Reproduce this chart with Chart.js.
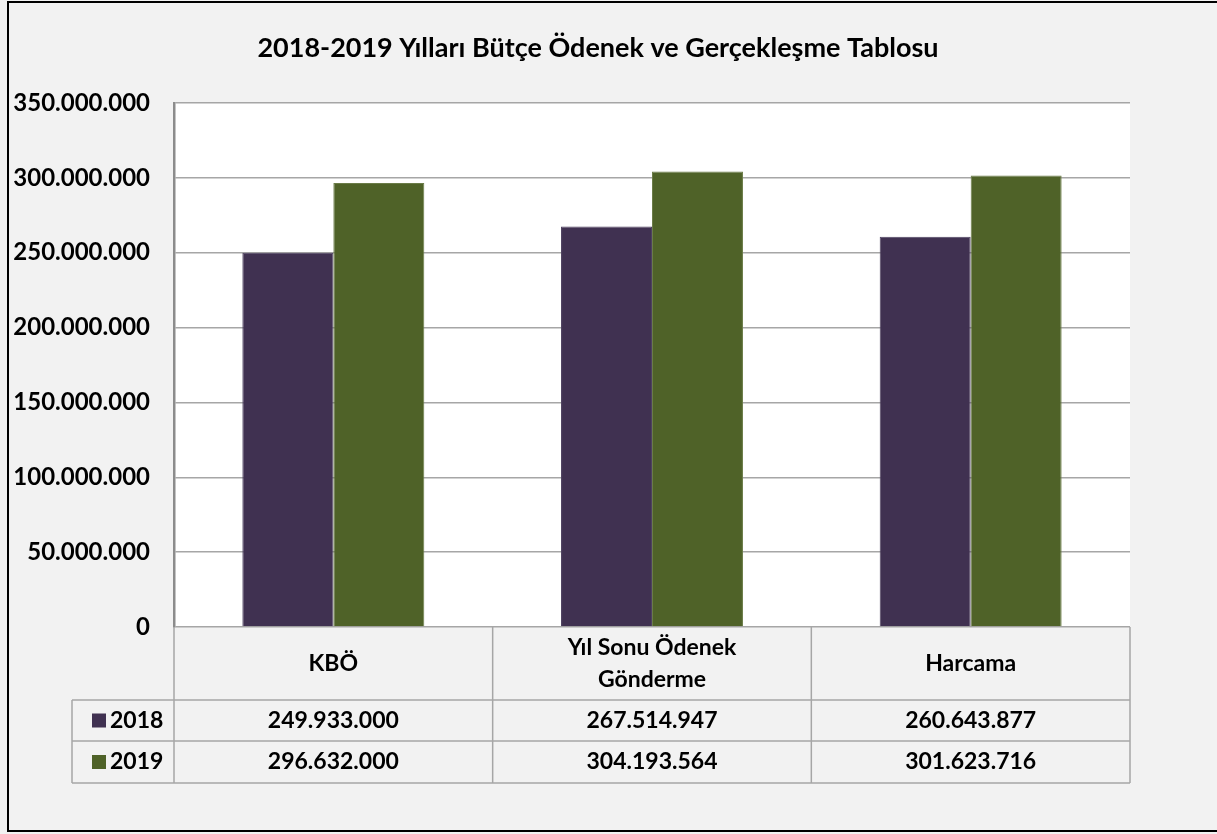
<!DOCTYPE html>
<html>
<head>
<meta charset="utf-8">
<script src="https://cdn.jsdelivr.net/npm/chart.js@4"></script>
<style>
  body { margin: 0; background: #f2f2f2; }
  #wrap { width: 1217px; height: 834px; }
</style>
</head>
<body>
<div id="wrap"><canvas id="budgetChart" width="1217" height="834"></canvas></div>
<script>
const chartTitle = '2018-2019 Yılları Bütçe Ödenek ve Gerçekleşme Tablosu';
const categories = ['KBÖ', ['Yıl Sonu Ödenek', 'Gönderme'], 'Harcama'];
const seriesNames = ['2018', '2019'];
const values2018 = [249933000, 267514947, 260643877];
const values2019 = [296632000, 304193564, 301623716];
const yMax = 350000000;
const yStep = 50000000;

const FONT = 'Lato, "Open Sans", sans-serif';
const colors = ['#403151', '#4f6228'];

function fmt(n) {
    return String(Math.round(n)).replace(/\B(?=(\d{3})+(?!\d))/g, '.');
}

const frame = {
    id: 'frame',
    beforeDraw(chart) {
        const ctx = chart.ctx;
        const a = chart.chartArea;
        ctx.save();
        ctx.fillStyle = '#f2f2f2';
        ctx.fillRect(0, 0, chart.width, chart.height);
        ctx.fillStyle = '#ffffff';
        ctx.fillRect(a.left, a.top, a.right - a.left, a.bottom - a.top);
        ctx.strokeStyle = '#000000';
        ctx.lineWidth = 2;
        ctx.strokeRect(8, 2, chart.width + 10, chart.height - 5);
        // title, centred on the whole frame rather than the plot
        ctx.fillStyle = '#000000';
        ctx.font = 'bold 27px ' + FONT;
        ctx.textAlign = 'center';
        ctx.textBaseline = 'middle';
        ctx.fillText(chartTitle, 598, 48);
        ctx.restore();
    }
};

// data table under the plot, columns follow the x scale
const dataTable = {
    id: 'dataTable',
    afterDraw(chart) {
        const ctx = chart.ctx;
        const a = chart.chartArea;
        const xs = chart.scales.x;
        const n = categories.length;
        const centers = categories.map((c, i) => xs.getPixelForValue(i));
        const bounds = [a.left];
        for (let i = 0; i < n - 1; i++) bounds.push((centers[i] + centers[i + 1]) / 2);
        bounds.push(a.right);

        const headTop = a.bottom, headBot = 700, row1 = 741, row2 = 783, legLeft = 72;

        ctx.save();
        ctx.strokeStyle = '#a6a6a6';
        ctx.lineWidth = 1.5;
        ctx.beginPath();
        bounds.forEach(x => { ctx.moveTo(x, headTop); ctx.lineTo(x, row2); });
        ctx.moveTo(legLeft, headBot); ctx.lineTo(legLeft, row2);
        [headBot, row1, row2].forEach(y => { ctx.moveTo(legLeft, y); ctx.lineTo(a.right, y); });
        ctx.stroke();

        ctx.fillStyle = '#000000';
        ctx.textAlign = 'center';
        ctx.textBaseline = 'middle';
        ctx.font = 'bold 23px ' + FONT;
        categories.forEach((c, i) => {
            const lines = Array.isArray(c) ? c : [c];
            const mid = (headTop + headBot) / 2;
            lines.forEach((t, k) => {
                const y = mid + (k - (lines.length - 1) / 2) * 32;
                ctx.fillText(t, centers[i], y);
            });
        });

        const rows = [values2018, values2019];
        const rowMid = [(headBot + row1) / 2, (row1 + row2) / 2];
        rows.forEach((vals, r) => {
            ctx.textAlign = 'center';
            vals.forEach((v, i) => ctx.fillText(fmt(v), centers[i], rowMid[r]));
            ctx.fillStyle = colors[r];
            ctx.fillRect(92, rowMid[r] - 7, 14, 14);
            ctx.fillStyle = '#000000';
            ctx.textAlign = 'left';
            ctx.fillText(seriesNames[r], 110, rowMid[r]);
        });
        ctx.restore();
    }
};

const ctx = document.getElementById('budgetChart').getContext('2d');
new Chart(ctx, {
    type: 'bar',
    data: {
        labels: categories,
        datasets: [
            { label: seriesNames[0], data: values2018, backgroundColor: colors[0], borderColor: '#4e4160', borderWidth: 1 },
            { label: seriesNames[1], data: values2019, backgroundColor: colors[1], borderColor: '#6b7c48', borderWidth: 1 }
        ]
    },
    options: {
        responsive: false,
        animation: false,
        categoryPercentage: 0.571,
        barPercentage: 1,
        layout: { padding: { top: 103, right: 87, bottom: 207, left: 0 } },
        plugins: {
            legend: { display: false },
            tooltip: { enabled: false },
            title: { display: false }
        },
        scales: {
            x: { display: false },
            y: {
                min: 0,
                max: yMax,
                afterFit(scale) { scale.width = 174; },
                ticks: {
                    stepSize: yStep,
                    padding: 24,
                    color: '#000000',
                    font: { family: FONT, size: 24, weight: 'bold' },
                    callback: v => fmt(v)
                },
                grid: { color: '#a6a6a6', lineWidth: 1.5, drawTicks: false },
                border: { color: '#8c8c8c', width: 2.5 }
            }
        }
    },
    plugins: [frame, dataTable]
});
</script>
</body>
</html>
